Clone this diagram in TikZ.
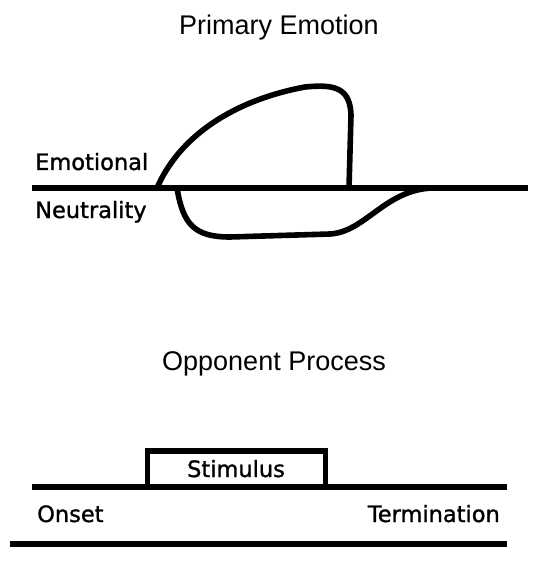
\documentclass[tikz,border=0pt]{standalone}
\usepackage{fontspec}
\setmainfont{Liberation Sans}
\newfontfamily\labelfont[FakeBold=1.2]{DejaVu Sans}
\begin{document}
\begin{tikzpicture}[x=1pt,y=-1pt,
  thickline/.style={line width=5.6pt},
  titletext/.style={font=\fontsize{27}{30}\selectfont, inner sep=0pt, anchor=base},
  labeltext/.style={font=\labelfont\fontsize{22.5}{25}\selectfont, inner sep=0pt}]
\useasboundingbox (0,0) rectangle (535,561);
\fill[white] (0,0) rectangle (535,561);

% ---- Primary Emotion ----
\node[titletext] (t1) at (279,35) {Primary Emotion};
\coordinate (l1a) at (32,188);
\coordinate (l1b) at (528,188);
\draw[thickline] (l1a) -- (l1b);
\node[labeltext, anchor=base west] (emo) at (35,170) {Emotional};
\node[labeltext, anchor=base west] (neu) at (35,218) {Neutrality};

\coordinate (up0) at (157,188);
\coordinate (up1) at (305,87);
\coordinate (up2) at (351,115);
\coordinate (up3) at (349,188);
\draw[thickline, line join=round] (up0) .. controls (180,135) and (235,100) .. (up1)
  .. controls (335,84) and (350,88) .. (up2) -- (up3);

\coordinate (dn0) at (177,188);
\coordinate (dn1) at (230,237);
\coordinate (dn2) at (330,234);
\coordinate (dn3) at (432,188);
\draw[thickline, line join=round] (dn0) .. controls (183,225) and (195,237) .. (dn1)
  -- (dn2) .. controls (365,232) and (385,190) .. (dn3);

% ---- Opponent Process ----
\node[titletext] (t2) at (274,370) {Opponent Process};
\coordinate (l2a) at (32,487);
\coordinate (l2b) at (507,487);
\draw[thickline] (l2a) -- (l2b);
\coordinate (sb1) at (147.5,487);
\coordinate (sb2) at (147.5,451);
\coordinate (sb3) at (325.5,451);
\coordinate (sb4) at (325.5,487);
\draw[thickline] (sb1) -- (sb2) -- (sb3) -- (sb4);
\node[labeltext, anchor=base] (stim) at (236,477) {Stimulus};
\node[labeltext, anchor=base west] (ons) at (37,522) {Onset};
\node[labeltext, anchor=base east] (term) at (500,522) {Termination};
\coordinate (l3a) at (10,544);
\coordinate (l3b) at (507,544);
\draw[thickline] (l3a) -- (l3b);
\end{tikzpicture}
\end{document}
